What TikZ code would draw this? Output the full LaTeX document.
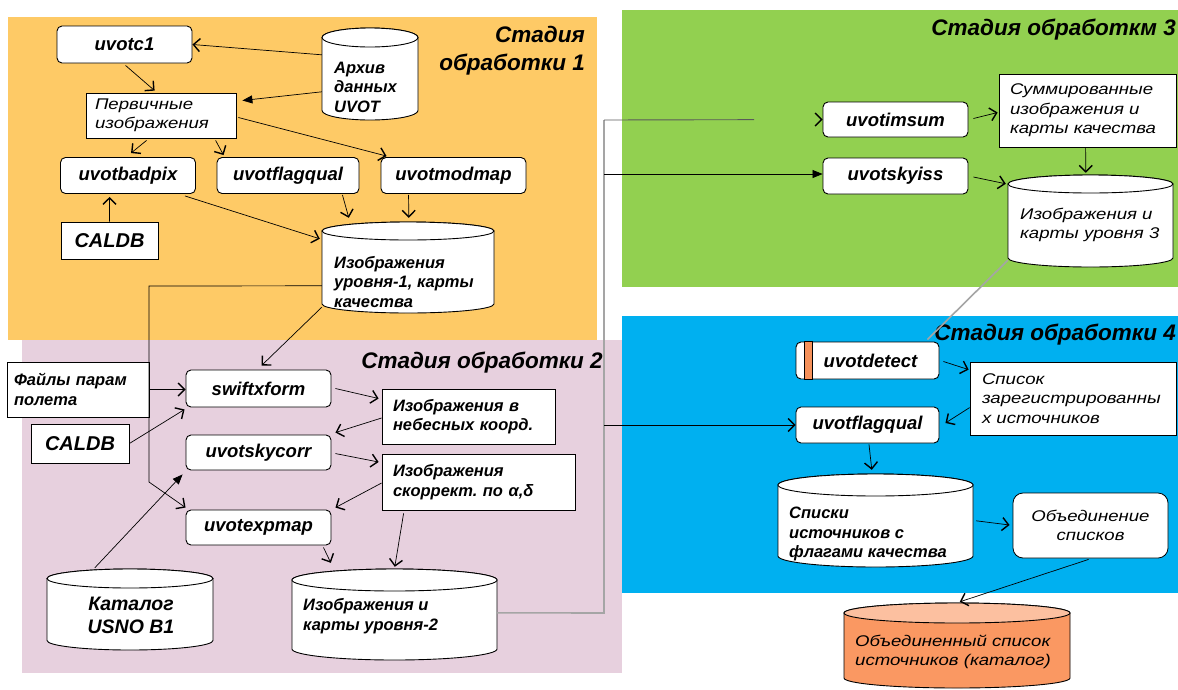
\documentclass[tikz,border=0pt]{standalone}
\usepackage{fontspec}
\setmainfont{Liberation Sans}
\newfontfamily\wide[FakeStretch=1.2]{Liberation Sans}
\usetikzlibrary{arrows.meta,calc}
\frenchspacing
\definecolor{orangebg}{RGB}{254,202,102}
\definecolor{pinkbg}{RGB}{231,208,222}
\definecolor{greenbg}{RGB}{146,208,80}
\definecolor{bluebg}{RGB}{0,176,240}
\definecolor{salmon}{RGB}{250,152,98}
\definecolor{salmonlt}{RGB}{252,192,160}
\definecolor{stripe}{RGB}{245,145,90}
\definecolor{lgray}{RGB}{165,165,165}
\definecolor{dgray}{RGB}{90,90,90}
\tikzset{
 tool/.style={draw, line width=0.9pt, rounded corners=5pt, fill=white, inner sep=0pt, font=\fontsize{18.5}{20}\selectfont\bfseries\itshape},
 lbox/.style={draw, line width=0.8pt, fill=white, inner ysep=0pt, align=left},
 lt/.style={font=\wide\fontsize{15.5}{19.5}\selectfont\itshape},
 lb/.style={font=\fontsize{16.5}{19.5}\selectfont\bfseries\itshape},
 ttl/.style={font=\fontsize{22.5}{28}\selectfont\bfseries\itshape, inner sep=0pt},
 ctext/.style={inner sep=0pt, align=left, anchor=west},
 cylline/.style={line width=0.9pt},
 arr/.style={line width=0.7pt, -{Straight Barb[length=6.5pt,width=13pt,line width=1.4pt]}},
 farr/.style={line width=0.7pt, -{Triangle[length=10pt,width=8pt]}},
}
% name, x1, y1, x2, y2, r, body fill, top fill
\newcommand\mycyl[8]{%
 \filldraw[cylline, fill=#7] (#2,#3+#6) -- (#2,#5-#6) arc[start angle=180, end angle=0, x radius={(#4-#2)/2}, y radius=#6] -- (#4,#3+#6) arc[start angle=0, end angle=-180, x radius={(#4-#2)/2}, y radius=#6] -- cycle;
 \filldraw[cylline, fill=#8] ({(#2+#4)/2},#3+#6) ellipse[x radius={(#4-#2)/2}, y radius=#6];
 \node[inner sep=0pt, minimum width={(#4-#2)*1pt}, minimum height={(#5-#3)*1pt}] (#1) at ({(#2+#4)/2},{(#3+#5)/2}) {};
}
\begin{document}
\begin{tikzpicture}[x=1pt,y=-1pt]
\useasboundingbox (0,0) rectangle (1178,689);
% panels
\fill[orangebg] (8,17) rectangle (597,340);
\fill[pinkbg] (22,340) rectangle (622,673);
\fill[greenbg] (622,10) rectangle (1178,287);
\fill[bluebg] (622,316) rectangle (1178,593);
% titles
\node[ttl, anchor=east, align=right] (t1) at (585,51) {Стадия\\обработки 1};
\node[ttl, anchor=east] (t3) at (1176,30) {Стадия обработкм 3};
\node[ttl] (t2) at (482,363) {Стадия обработки 2};
\node[ttl, anchor=east] (t4) at (1176,335) {Стадия обработки 4};

% ---------- stage 1
\node[tool, minimum width=135pt, minimum height=37pt] (c1) at (124.5,44.5) {uvotc1};
\mycyl{arch}{322}{28}{418}{120}{9.5}{white}{white}
\node[ctext, lb] (archt) at (334,87) {Архив\\данных\\UVOT};
\node[lbox, lt, minimum width=150pt, minimum height=45pt, text width=132pt, inner xsep=9pt] (perv) at (161,115.5) {Первичные\\изображения};
\node[tool, minimum width=135pt, minimum height=36pt] (badpix) at (128,175.5) {uvotbadpix};
\node[tool, minimum width=142pt, minimum height=36pt] (flag1) at (288,175.5) {uvotflagqual};
\node[tool, minimum width=145pt, minimum height=36pt] (modmap) at (453.5,175.5) {uvotmodmap};
\node[lbox, minimum width=97pt, minimum height=37pt, font=\fontsize{20}{22}\selectfont\bfseries\itshape, align=center] (cal1) at (109.5,240.5) {CALDB};
\mycyl{lev1}{322}{222}{494}{313}{9}{white}{white}
\node[ctext, lb] (lev1t) at (334,282) {Изображения\\уровня-1, карты\\качества};

% ---------- stage 2
\node[lbox, font=\fontsize{16.5}{20}\selectfont\bfseries\itshape, minimum width=142pt, minimum height=55pt, text width=128pt, inner xsep=7pt] (fil) at (78,389.5) {Файлы парам\\полета};
\node[lbox, minimum width=98pt, minimum height=39pt, font=\fontsize{20}{22}\selectfont\bfseries\itshape, align=center] (cal2) at (80,443.5) {CALDB};
\node[tool, minimum width=145pt, minimum height=37pt] (swift) at (258.5,388.5) {swiftxform};
\node[tool, minimum width=145pt, minimum height=35pt] (skycorr) at (258.5,452.5) {uvotskycorr};
\node[tool, minimum width=145pt, minimum height=35pt] (expmap) at (258.5,527.5) {uvotexpmap};
\node[lbox, lb, minimum width=173pt, minimum height=55pt, text width=151pt, inner xsep=11pt] (neb) at (468.5,416.5) {Изображения в\\небесных коорд.};
\node[lbox, lb, minimum width=193pt, minimum height=56pt, text width=171pt, inner xsep=11pt] (skr) at (478.5,482) {Изображения\\скоррект. по α,δ};
\mycyl{kat}{47}{569}{213}{650}{9.5}{white}{white}
\node[inner sep=0pt, align=center, font=\fontsize{19.5}{23}\selectfont\bfseries\itshape] (katt) at (131,615.5) {Каталог\\USNO B1};
\mycyl{lev2}{292}{569}{497}{660}{11}{white}{white}
\node[ctext, lb] (lev2t) at (303,616) {Изображения и\\карты уровня-2};

% ---------- stage 3
\node[tool, minimum width=145pt, minimum height=35pt] (imsum) at (895.5,119.5) {uvotimsum};
\node[tool, minimum width=145pt, minimum height=36pt] (skyiss) at (895.5,176) {uvotskyiss};
\node[lbox, lt, minimum width=177pt, minimum height=73pt, text width=155pt, inner xsep=11pt] (summ) at (1087.5,110.5) {Суммированные\\изображения и\\карты качества};
\mycyl{lev3}{1008}{175}{1173}{267}{9}{white}{white}
\node[ctext, lt] (lev3t) at (1020,225) {Изображения и\\карты уровня 3};

% ---------- stage 4
\node[tool, minimum width=143pt, minimum height=37pt] (det) at (867.5,360.5) {\hspace*{6pt}uvotdetect};
\filldraw[fill=stripe, line width=0.8pt] ($(det.north west)+(9,0)$) rectangle ($(det.south west)+(17,0)$);
\node[lbox, lt, minimum width=206pt, minimum height=73pt, text width=182pt, inner xsep=12pt] (spis) at (1073,398.5) {Список\\зарегистрированны\\х источников};
\node[tool, minimum width=143pt, minimum height=36pt] (flag2) at (867.5,425) {uvotflagqual};
\mycyl{spiski}{778}{474}{973}{567}{11}{white}{white}
\node[ctext, lb] (spiskit) at (789,534) {Списки\\источников с\\флагами качества};
\node[lbox, lt, rounded corners=10pt, minimum width=155pt, minimum height=65pt, align=center] (ob) at (1090.5,525.5) {Объединение\\списков};
\mycyl{obl}{844}{603}{1070}{688}{10}{salmon}{salmonlt}
\node[ctext, lt] (oblt) at (855,652) {Объединенный список\\источников (каталог)};

% ---------- junction coordinates
\coordinate (j1) at (604,120);
\coordinate (j2) at (604,174);
\coordinate (j3) at (604,425);
\coordinate (j4) at (604,613);
\coordinate (k1) at (149,286);
\coordinate (k2) at (149,482);

% ---------- connectors stage 1
\draw[arr] ($(arch.north west)+(0,27)$) -- (c1.east);
\draw[arr] ($(c1.south west)+(69,2)$) -- ($(perv.north west)+(69,-2)$);
\draw[farr] ($(arch.north west)+(0,64)$) -- ($(perv.east)+(6,-15)$);
\draw[arr] ($(perv.south west)+(61,2)$) -- ($(badpix.north west)+(71,-4)$);
\draw[arr] ($(perv.south west)+(130,2)$) -- ($(flag1.north west)+(7,-2)$);
\draw[arr] ($(perv.east)+(2,2)$) -- ($(modmap.north west)+(6,-1)$);
\draw[arr] ($(badpix.south east)+(-11,2)$) -- ($(lev1.north west)+(-2,17)$);
\draw[arr] ($(flag1.south east)+(-17,1)$) -- ($(lev1.north west)+(27,-4)$);
\draw[arr] ($(modmap.south west)+(28,1)$) -- ($(lev1.north west)+(87,-4)$);
\draw[arr] (cal1.north) -- ($(badpix.south west)+(49.5,3)$);
\draw[arr] ($(lev1.south west)+(0,-6)$) -- ($(swift.north)+(3,-4)$);
\draw[arr] ($(lev1.north west)+(0,64)$) -- (k1) -- (k2) -- ($(expmap.north west)+(0,-2)$);

% ---------- connectors stage 2
\draw[arr] (fil.east) -- (fil.east -| swift.west);
\draw[arr] (cal2.east) -- ($(swift.south west)+(-1,2)$);
\draw[arr] ($(swift.east)+(4,0)$) -- ($(neb.west)+(-3,-18)$);
\draw[arr] ($(neb.west)+(0,1.5)$) -- ($(skycorr.north east)+(4,-2)$);
\draw[arr] ($(skycorr.north east)+(4,19)$) -- ($(skr.west)+(-3,-20)$);
\draw[arr] ($(skr.west)+(0,1)$) -- ($(expmap.north east)+(4,-2)$);
\draw[arr] ($(skr.south west)+(22,3)$) -- ($(lev2.north west)+(103,-2)$);
\draw[arr] ($(expmap.south east)+(-8,2)$) -- ($(lev2.north west)+(39,-6)$);
\draw[farr] ($(kat.north west)+(48,-1)$) -- ($(skycorr.south west)+(-3,4)$);
\draw[lgray, line width=1.6pt] ($(lev2.north east)+(0,44)$) -- (j4) -- (j1);
\draw[dgray, line width=0.9pt, dash pattern=on 150pt off 100pt, -{Straight Barb[length=6.5pt,width=13pt,line width=1.4pt,black]}] (j1) -- (imsum.west);
\draw[farr] (j2) -- (j2 -| skyiss.west);
\draw[arr] (j3) -- (flag2.west);

% ---------- connectors stage 3
\draw[arr] ($(imsum.east)+(5,-1)$) -- ($(summ.west)+(-1,2)$);
\draw[arr] ($(summ.south west)+(87,0)$) -- ($(lev3.north west)+(78,-2)$);
\draw[arr] ($(skyiss.east)+(5,1)$) -- ($(lev3.north west)+(-2,9)$);
\draw[lgray, line width=1.6pt] ($(lev3.south west)+(0,-7)$) -- ($(det.north east)+(-12,-2)$);

% ---------- connectors stage 4
\draw[arr] ($(det.east)+(4,1)$) -- ($(spis.north west)+(-1,8)$);
\draw[arr] ($(spis.north west)+(0,46)$) -- ($(flag2.east)+(6,-2)$);
\draw[arr] ($(flag2.south)+(1.5,1)$) -- ($(spiski.north west)+(94,-4)$);
\draw[arr] ($(spiski.north east)+(3,47)$) -- ($(ob.west)+(-3,-0.5)$);
\draw[arr] ($(ob.south west)+(76,1)$) -- ($(obl.north west)+(116,-1)$);
\end{tikzpicture}
\end{document}
